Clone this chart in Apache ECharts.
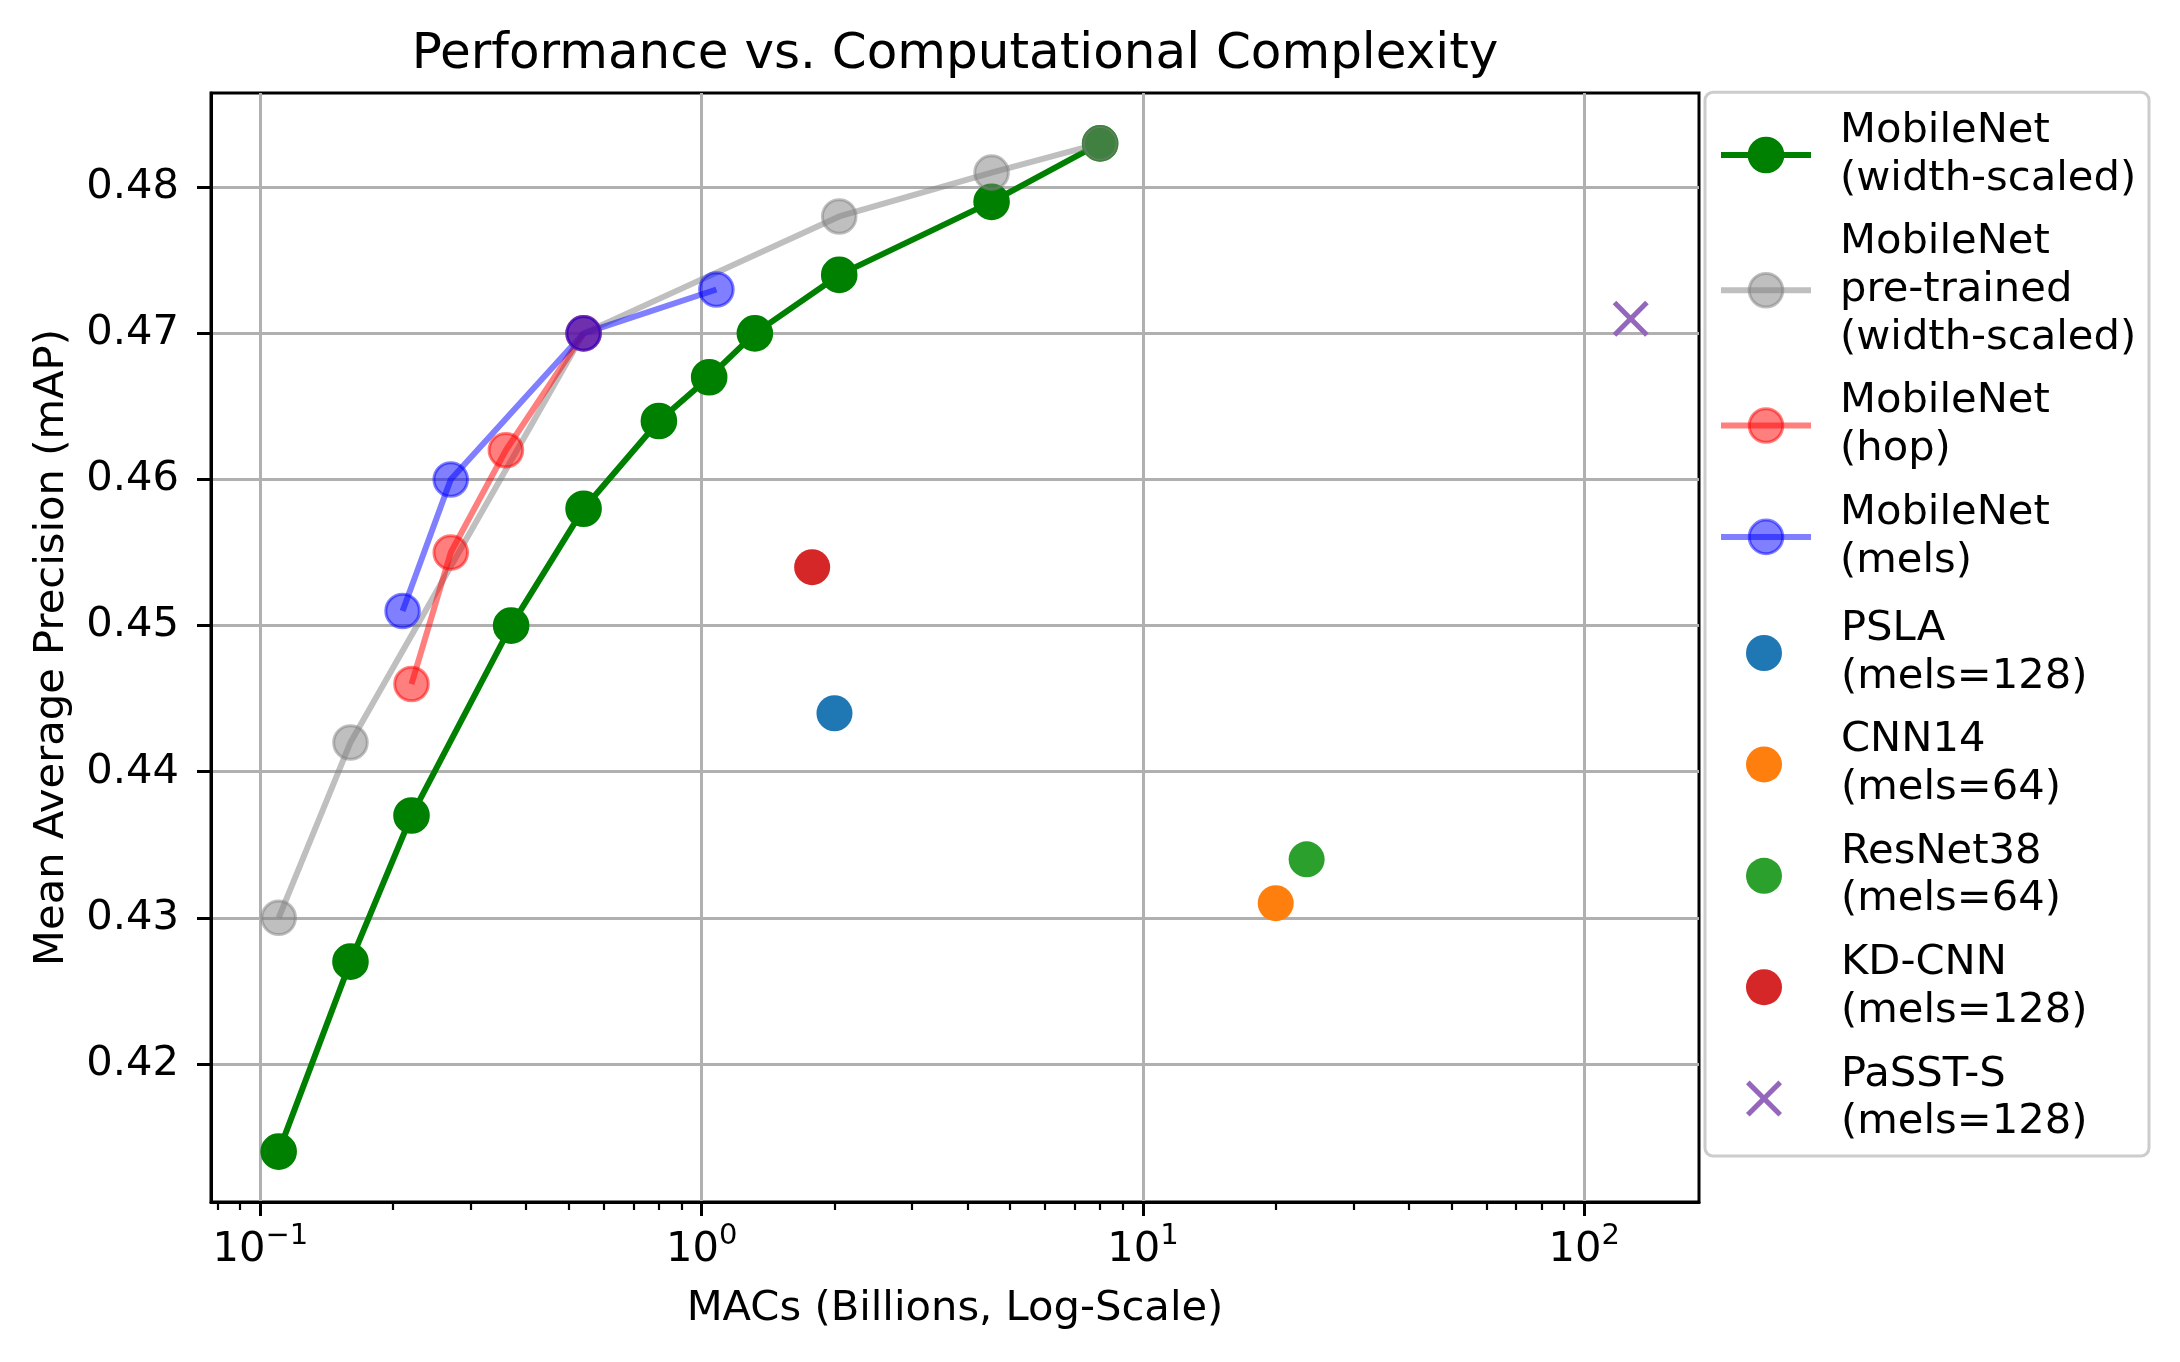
<!DOCTYPE html>
<html>
<head>
<meta charset="utf-8">
<title>Performance vs. Computational Complexity</title>
<script src="https://cdn.jsdelivr.net/npm/echarts@6/dist/echarts.min.js"></script>
<style>
html, body { margin: 0; padding: 0; background: #fff; }
#chart { width: 2180px; height: 1362px; }
</style>
</head>
<body>
<div id="chart"></div>
<script>
// MobileNet variants: MACs (billions) and mAP
var widthMacs = [0.11, 0.16, 0.22, 0.37, 0.54, 0.80, 1.04, 1.32, 2.05, 4.54, 8.0];
var widthMap  = [0.414, 0.427, 0.437, 0.450, 0.458, 0.464, 0.467, 0.470, 0.474, 0.479, 0.483];
var pretrainedMacs = [0.11, 0.16, 0.54, 2.05, 4.54, 8.0];
var pretrainedMap  = [0.430, 0.442, 0.470, 0.478, 0.481, 0.483];
var hopMacs = [0.22, 0.27, 0.36, 0.54];
var hopMap  = [0.446, 0.455, 0.462, 0.470];
var melsMacs = [0.21, 0.27, 0.54, 1.08];
var melsMap  = [0.451, 0.460, 0.470, 0.473];

// other models (single points)
var baseNames  = ['PSLA\n(mels=128)', 'CNN14\n(mels=64)', 'ResNet38\n(mels=64)', 'KD-CNN\n(mels=128)', 'PaSST-S\n(mels=128)'];
var baseMacs   = [2.0, 20.0, 23.5, 1.78, 127.5];
var baseMap    = [0.444, 0.431, 0.434, 0.454, 0.471];
var baseColors = ['#1f77b4', '#ff7f0e', '#2ca02c', '#d62728', '#9467bd'];
var baseSymbols = ['circle', 'circle', 'circle', 'circle',
    'path://M0,10L10,0L50,40L90,0L100,10L60,50L100,90L90,100L50,60L10,100L0,90L40,50Z'];

// ticks
var xTicks = [0.1, 1, 10, 100];
var xTickExp = ['\u22121', '0', '1', '2'];
var xMinorTicks = [0.08, 0.09, 0.2, 0.3, 0.4, 0.5, 0.6, 0.7, 0.8, 0.9,
    2, 3, 4, 5, 6, 7, 8, 9, 20, 30, 40, 50, 60, 70, 80, 90];
var yTicks = [0.42, 0.43, 0.44, 0.45, 0.46, 0.47, 0.48];

var FONT = 'DejaVu Sans';
var FS = 41.67;

function pairs(xs, ys) {
    return xs.map(function (x, i) { return [x, ys[i]]; });
}

function lineSeries(name, xs, ys, color) {
    return {
        type: 'line',
        name: name,
        data: pairs(xs, ys),
        symbol: 'circle',
        symbolSize: 33.6,
        lineStyle: { color: color, width: 6 },
        itemStyle: { color: color, borderColor: color, borderWidth: 3, opacity: 1 },
        emphasis: { disabled: true },
        animation: false
    };
}

var lineNames = ['MobileNet\n(width-scaled)', 'MobileNet\npre-trained\n(width-scaled)', 'MobileNet\n(hop)', 'MobileNet\n(mels)'];

var series = [
    lineSeries(lineNames[0], widthMacs, widthMap, '#008000'),
    lineSeries(lineNames[1], pretrainedMacs, pretrainedMap, 'rgba(128,128,128,0.5)'),
    lineSeries(lineNames[2], hopMacs, hopMap, 'rgba(255,0,0,0.5)'),
    lineSeries(lineNames[3], melsMacs, melsMap, 'rgba(0,0,255,0.5)')
];
baseNames.forEach(function (n, i) {
    series.push({
        type: 'scatter',
        name: n,
        data: [[baseMacs[i], baseMap[i]]],
        symbol: baseSymbols[i],
        symbolSize: 36,
        symbolKeepAspect: true,
        itemStyle: { color: baseColors[i], opacity: 1 },
        emphasis: { disabled: true },
        animation: false
    });
});

function legendText(padLeft) {
    return { fontFamily: FONT, fontSize: FS, lineHeight: 47.7, color: '#000', padding: [0, 0, 0, padLeft] };
}

var chart = echarts.init(document.getElementById('chart'));
chart.setOption({
    animation: false,
    backgroundColor: '#fff',
    textStyle: { fontFamily: FONT },
    grid: {
        left: 211, right: 481, top: 93, bottom: 160,
        show: true, borderColor: '#000', borderWidth: 3, backgroundColor: 'transparent'
    },
    xAxis: [{
        type: 'log',
        logBase: 10,
        min: 0.07727,
        max: 182.1,
        name: 'MACs (Billions, Log-Scale)',
        nameLocation: 'middle',
        nameGap: 86,
        nameTextStyle: { fontFamily: FONT, fontSize: FS, color: '#000' },
        axisLine: { show: true, lineStyle: { color: '#000', width: 3 } },
        axisTick: { show: true, customValues: xTicks, length: 14, lineStyle: { color: '#000', width: 3 } },
        axisLabel: {
            customValues: xTicks,
            margin: 20,
            formatter: function (v) {
                var k = xTicks.indexOf(v);
                var e = k >= 0 ? xTickExp[k] : String(Math.round(Math.log10(v)));
                return '{b|10}{s|' + e + '}';
            },
            rich: {
                b: { fontFamily: FONT, fontSize: FS, lineHeight: 49, color: '#000', verticalAlign: 'bottom' },
                s: { fontFamily: FONT, fontSize: 29, lineHeight: 29, color: '#000', verticalAlign: 'top' }
            }
        },
        splitLine: { show: true, lineStyle: { color: '#b0b0b0', width: 3 } }
    }, {
        type: 'log',
        logBase: 10,
        gridIndex: 0,
        position: 'bottom',
        min: 0.07727,
        max: 182.1,
        axisLine: { show: false },
        axisLabel: { show: false },
        splitLine: { show: false },
        axisTick: { show: true, customValues: xMinorTicks, length: 8, lineStyle: { color: '#000', width: 2.2 } }
    }],
    yAxis: {
        type: 'value',
        min: 0.41055,
        max: 0.48645,
        name: 'Mean Average Precision (mAP)',
        nameLocation: 'middle',
        nameGap: 138,
        nameTextStyle: { fontFamily: FONT, fontSize: FS, color: '#000' },
        axisLine: { show: true, lineStyle: { color: '#000', width: 3 } },
        axisTick: { show: true, customValues: yTicks, length: 14, lineStyle: { color: '#000', width: 3 } },
        axisLabel: {
            customValues: yTicks,
            margin: 32,
            fontFamily: FONT, fontSize: FS, color: '#000',
            formatter: function (v) { return v.toFixed(2); }
        },
        splitLine: { show: true, lineStyle: { color: '#b0b0b0', width: 3 } }
    },
    legend: [{
        data: lineNames,
        orient: 'vertical',
        left: 1718, top: 107.3,
        padding: 0,
        itemGap: 16,
        itemWidth: 90, itemHeight: 42,
        selectedMode: false,
        itemStyle: { borderWidth: 3 },
        lineStyle: { width: 6 },
        textStyle: legendText(24),
        z: 5
    }, {
        data: baseNames,
        orient: 'vertical',
        left: 1746, top: 605.3,
        padding: 0,
        itemGap: 16,
        itemWidth: 90, itemHeight: 36,
        selectedMode: false,
        itemStyle: { borderWidth: 0 },
        textStyle: legendText(27),
        z: 5
    }],
    graphic: [{
        type: 'rect',
        z: 1,
        silent: true,
        shape: { x: 1705, y: 92.3, width: 444, height: 1063.7, r: 8 },
        style: { fill: '#fff', stroke: '#cccccc', lineWidth: 3 }
    }, {
        type: 'text',
        z: 5,
        x: 955, y: 54.6,
        style: {
            text: 'Performance vs. Computational Complexity',
            font: '50px "DejaVu Sans"',
            fill: '#000',
            align: 'center',
            verticalAlign: 'middle'
        }
    }],
    series: series
});
</script>
</body>
</html>
